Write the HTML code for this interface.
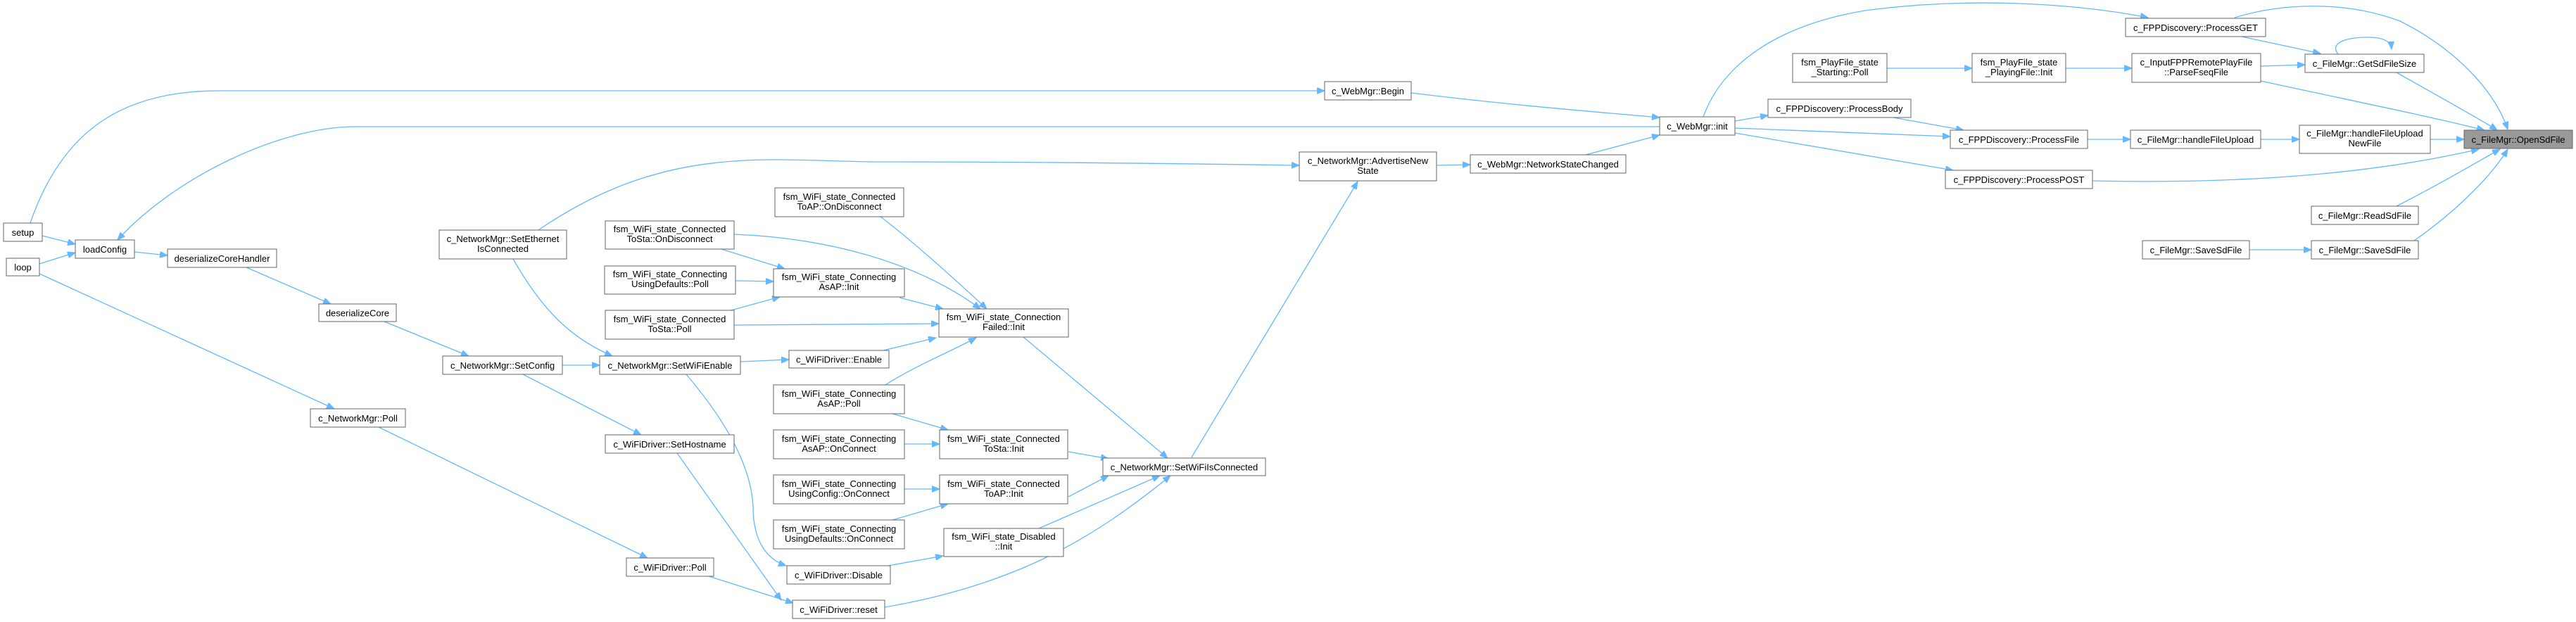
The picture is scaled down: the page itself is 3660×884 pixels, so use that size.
<!DOCTYPE html>
<html><head><meta charset="utf-8"><style>
html,body{margin:0;padding:0;background:#fff;}
svg{display:block;}
text{font-family:"Liberation Sans",Arial,sans-serif;font-size:13px;fill:#000;text-anchor:middle;}
rect{fill:#fff;stroke:#666;stroke-width:1;}
path{fill:none;stroke:#63b8ff;stroke-width:1.3;}
</style></head><body>
<svg width="3660" height="884" viewBox="0 0 3660 884" xmlns="http://www.w3.org/2000/svg">
<defs>
<marker id="a" markerWidth="12" markerHeight="9" refX="11" refY="4.5" orient="auto" markerUnits="userSpaceOnUse">
<path d="M0,0 L11,4.5 L0,9 Z" style="fill:#63b8ff;stroke:#63b8ff;stroke-width:1"/>
</marker>
</defs>
<g marker-end="url(#a)">
<!-- right side -->
<path d="M3175,25 C3240,5 3330,0 3410,30 C3490,70 3545,130 3563,184"/>
<path d="M3185,52 L3297,76"/>
<path d="M3322,77 C3310,62 3330,53 3365,53 C3385,53 3397,58 3398,70"/>
<path d="M3405,103 C3470,140 3525,170 3548,185"/>
<path d="M3212,94 L3275,92"/>
<path d="M3212,115 C3350,145 3450,165 3530,185"/>
<path d="M2681,97 L2802,97"/>
<path d="M2935,97 L3029,97"/>
<path d="M2420,166 C2440,110 2500,40 2650,15 C2800,-5 2950,5 3052,25"/>
<path d="M2465,172 L2512,164"/>
<path d="M2465,182 L2771,194"/>
<path d="M2465,189 L2775,242"/>
<path d="M2690,167 L2790,185"/>
<path d="M2966,198 L3027,198"/>
<path d="M3212,198 L3267,198"/>
<path d="M3453,198 L3501,198"/>
<path d="M2973,257 C3200,262 3380,245 3522,212"/>
<path d="M3405,293 C3470,260 3520,230 3552,212"/>
<path d="M3430,342 C3490,300 3540,250 3563,212"/>
<path d="M3196,355 L3284,355"/>
<!-- middle -->
<path d="M2005,132 C2150,150 2280,160 2358,167"/>
<path d="M2253,220 L2358,192"/>
<path d="M2041,235 L2089,234"/>
<path d="M1693,650 L1929,258"/>
<path d="M2358,180 L505,180 C400,180 250,250 167,341"/>
<path d="M43,317 C90,180 180,129 311,129 L1882,129"/>
<path d="M765,327 C950,200 1100,230 1250,230 C1500,230 1700,233 1846,235"/>
<path d="M1454,479 L1659,651"/>
<path d="M1518,642 L1575,652"/>
<path d="M1518,706 L1575,676"/>
<path d="M1476,751 L1648,676"/>
<path d="M1257,863 C1450,830 1560,760 1663,676"/>
<path d="M1251,308 C1300,345 1360,400 1402,439"/>
<path d="M1043,333 C1170,338 1300,370 1393,439"/>
<path d="M1025,354 L1115,382"/>
<path d="M1045,399 L1099,400"/>
<path d="M1035,442 L1108,422"/>
<path d="M1043,462 L1334,460"/>
<path d="M1278,423 L1340,439"/>
<path d="M1255,498 L1330,480"/>
<path d="M1258,547 C1300,520 1350,500 1387,480"/>
<path d="M1268,588 L1347,611"/>
<path d="M1285,631 L1335,631"/>
<path d="M1285,695 L1335,695"/>
<path d="M1268,739 L1347,716"/>
<path d="M1262,804 L1340,790"/>
<path d="M729,368 C770,440 810,480 870,506"/>
<path d="M799,519 L852,519"/>
<path d="M1052,514 L1121,511"/>
<path d="M975,532 C1050,620 1068,680 1070,720 C1070,770 1090,795 1117,804"/>
<path d="M546,457 L666,506"/>
<path d="M743,532 L911,618"/>
<path d="M962,644 L1110,853"/>
<path d="M1007,819 L1127,857"/>
<path d="M538,607 L920,793"/>
<path d="M56,389 L475,581"/>
<path d="M60,335 L107,347"/>
<path d="M56,375 L107,359"/>
<path d="M191,358 L238,363"/>
<path d="M350,380 L470,432"/>
</g>

<!-- nodes -->
<rect x="5" y="317" width="55" height="26"/><text x="32.5" y="335">setup</text>
<rect x="9" y="367" width="47" height="25"/><text x="32.5" y="384.5">loop</text>
<rect x="107" y="341" width="84" height="26"/><text x="149" y="359">loadConfig</text>
<rect x="238" y="354" width="155" height="26"/><text x="315.5" y="372">deserializeCoreHandler</text>
<rect x="453" y="432" width="110" height="25"/><text x="508" y="449.5">deserializeCore</text>
<rect x="624" y="327" width="181" height="41"/><text x="714.5" y="344">c_NetworkMgr::SetEthernet</text><text x="714.5" y="358">IsConnected</text>
<rect x="629" y="506" width="170" height="26"/><text x="714" y="524">c_NetworkMgr::SetConfig</text>
<rect x="441" y="581" width="135" height="26"/><text x="508.5" y="599">c_NetworkMgr::Poll</text>
<rect x="852" y="506" width="200" height="26"/><text x="952" y="524">c_NetworkMgr::SetWiFiEnable</text>
<rect x="860" y="618" width="183" height="26"/><text x="951.5" y="636">c_WiFiDriver::SetHostname</text>
<rect x="890" y="793" width="124" height="26"/><text x="952" y="811">c_WiFiDriver::Poll</text>
<rect x="860" y="314" width="183" height="40"/><text x="951.5" y="330">fsm_WiFi_state_Connected</text><text x="951.5" y="344">ToSta::OnDisconnect</text>
<rect x="859" y="378" width="186" height="40"/><text x="952" y="394">fsm_WiFi_state_Connecting</text><text x="952" y="408">UsingDefaults::Poll</text>
<rect x="860" y="441" width="183" height="41"/><text x="951.5" y="458">fsm_WiFi_state_Connected</text><text x="951.5" y="472">ToSta::Poll</text>
<rect x="1101" y="267" width="183" height="41"/><text x="1192.5" y="284">fsm_WiFi_state_Connected</text><text x="1192.5" y="298">ToAP::OnDisconnect</text>
<rect x="1099" y="382" width="186" height="40"/><text x="1192" y="398">fsm_WiFi_state_Connecting</text><text x="1192" y="412">AsAP::Init</text>
<rect x="1121" y="498" width="142" height="25"/><text x="1192" y="515.5">c_WiFiDriver::Enable</text>
<rect x="1099" y="547" width="186" height="41"/><text x="1192" y="564">fsm_WiFi_state_Connecting</text><text x="1192" y="578">AsAP::Poll</text>
<rect x="1099" y="611" width="186" height="41"/><text x="1192" y="628">fsm_WiFi_state_Connecting</text><text x="1192" y="642">AsAP::OnConnect</text>
<rect x="1099" y="675" width="186" height="41"/><text x="1192" y="692">fsm_WiFi_state_Connecting</text><text x="1192" y="706">UsingConfig::OnConnect</text>
<rect x="1099" y="739" width="186" height="41"/><text x="1192" y="756">fsm_WiFi_state_Connecting</text><text x="1192" y="770">UsingDefaults::OnConnect</text>
<rect x="1118" y="804" width="147" height="26"/><text x="1191.5" y="822">c_WiFiDriver::Disable</text>
<rect x="1126" y="853" width="131" height="26"/><text x="1191.5" y="871">c_WiFiDriver::reset</text>
<rect x="1334" y="439" width="184" height="40"/><text x="1426" y="455">fsm_WiFi_state_Connection</text><text x="1426" y="469">Failed::Init</text>
<rect x="1335" y="611" width="182" height="41"/><text x="1426" y="628">fsm_WiFi_state_Connected</text><text x="1426" y="642">ToSta::Init</text>
<rect x="1335" y="675" width="182" height="41"/><text x="1426" y="692">fsm_WiFi_state_Connected</text><text x="1426" y="706">ToAP::Init</text>
<rect x="1341" y="751" width="170" height="40"/><text x="1426" y="767">fsm_WiFi_state_Disabled</text><text x="1426" y="781">::Init</text>
<rect x="1567" y="651" width="231" height="25"/><text x="1682.5" y="668.5">c_NetworkMgr::SetWiFiIsConnected</text>
<rect x="1882" y="116" width="123" height="26"/><text x="1943.5" y="134">c_WebMgr::Begin</text>
<rect x="1846" y="216" width="195" height="41"/><text x="1943.5" y="233">c_NetworkMgr::AdvertiseNew</text><text x="1943.5" y="247">State</text>
<rect x="2089" y="220" width="221" height="26"/><text x="2199.5" y="238">c_WebMgr::NetworkStateChanged</text>
<rect x="2358" y="166" width="107" height="26"/><text x="2411.5" y="184">c_WebMgr::init</text>
<rect x="2547" y="76" width="134" height="41"/><text x="2614" y="93">fsm_PlayFile_state</text><text x="2614" y="107">_Starting::Poll</text>
<rect x="2802" y="76" width="133" height="41"/><text x="2868.5" y="93">fsm_PlayFile_state</text><text x="2868.5" y="107">_PlayingFile::Init</text>
<rect x="3020" y="26" width="199" height="26"/><text x="3119.5" y="44">c_FPPDiscovery::ProcessGET</text>
<rect x="3029" y="76" width="183" height="41"/><text x="3120.5" y="93">c_InputFPPRemotePlayFile</text><text x="3120.5" y="107">::ParseFseqFile</text>
<rect x="3275" y="77" width="169" height="26"/><text x="3359.5" y="95">c_FileMgr::GetSdFileSize</text>
<rect x="2512" y="141" width="203" height="26"/><text x="2613.5" y="159">c_FPPDiscovery::ProcessBody</text>
<rect x="2771" y="185" width="195" height="26"/><text x="2868.5" y="203">c_FPPDiscovery::ProcessFile</text>
<rect x="3027" y="185" width="185" height="26"/><text x="3119.5" y="203">c_FileMgr::handleFileUpload</text>
<rect x="3267" y="178" width="186" height="40"/><text x="3360" y="194">c_FileMgr::handleFileUpload</text><text x="3360" y="208">NewFile</text>
<rect x="3501" y="185" width="154" height="26" style="fill:#999;stroke:#666"/><text x="3578" y="203">c_FileMgr::OpenSdFile</text>
<rect x="2764" y="242" width="209" height="26"/><text x="2868.5" y="260">c_FPPDiscovery::ProcessPOST</text>
<rect x="3284" y="293" width="152" height="26"/><text x="3360" y="311">c_FileMgr::ReadSdFile</text>
<rect x="3044" y="342" width="152" height="26"/><text x="3120" y="360">c_FileMgr::SaveSdFile</text>
<rect x="3284" y="342" width="152" height="26"/><text x="3360" y="360">c_FileMgr::SaveSdFile</text>
</svg>
</body></html>
